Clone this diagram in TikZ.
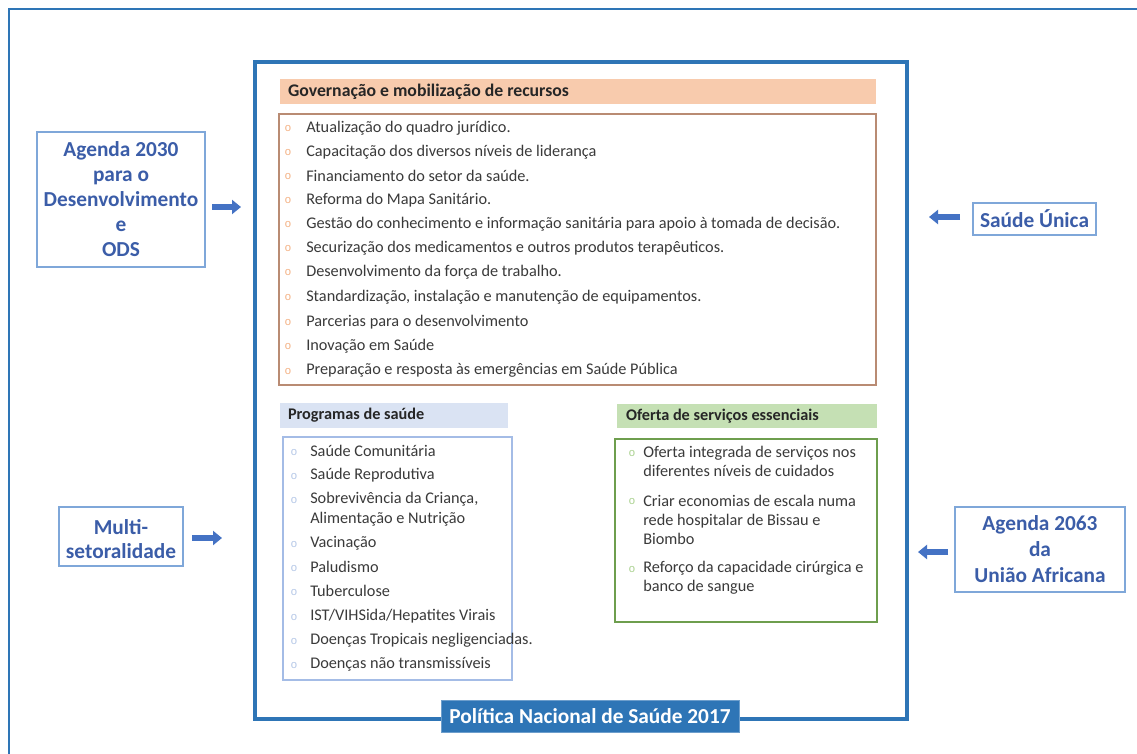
\documentclass[tikz,border=0pt]{standalone}
\usepackage{fontspec}
\setmainfont{Carlito}
\newfontfamily\bulfont{Liberation Mono}
\usetikzlibrary{arrows.meta,calc,fit}
\definecolor{mblue}{HTML}{2E75B6}
\definecolor{sidetext}{HTML}{3B5DA8}
\definecolor{sideborder}{HTML}{7FA7D9}
\definecolor{arrowc}{HTML}{4472C4}
\definecolor{peach}{HTML}{F8CBAD}
\definecolor{govborder}{HTML}{B98B73}
\definecolor{govbul}{HTML}{F4B183}
\definecolor{lblue}{HTML}{DAE3F3}
\definecolor{progborder}{HTML}{A4BCE6}
\definecolor{progbul}{HTML}{B4C7E7}
\definecolor{lgreen}{HTML}{C5E0B4}
\definecolor{ofborder}{HTML}{6E9E4E}
\definecolor{ofbul}{HTML}{A9D18E}
\definecolor{bodytext}{HTML}{3A3A3A}
\definecolor{headtext}{HTML}{262626}
\begin{document}
\begin{tikzpicture}[x=0.75pt,y=-0.75pt,
  frame/.style={inner sep=0pt, outer sep=0pt},
  sidebox/.style={frame, draw=sideborder, line width=1.2pt},
  sidetxt/.style={text=sidetext, align=center, inner sep=0pt},
  head/.style={frame, text=headtext, font=\fontsize{12.2}{14}\selectfont\bfseries},
  item/.style={anchor=west, inner sep=0pt, text=bodytext, align=left,
    font=\fontsize{12.2}{15}\selectfont},
  bul/.style={anchor=center, inner sep=0pt, font=\fontsize{8.5}{8.5}\selectfont\bulfont},
  arr/.style={draw=arrowc, line width=4.5pt, -{Triangle[length=6.75pt,width=10.5pt]}}
]
\useasboundingbox (0,0) rectangle (1137,753);
\clip (0,0) rectangle (1137,753);
\fill[white] (0,0) rectangle (1137,753);
% outer frame
\node[frame, draw=mblue, line width=1.6pt, fit={(9,9) (1160,780)}] (outer) {};
% main frame
\node[frame, draw=mblue, line width=2.4pt, fit={(255,62) (907,719)}] (main) {};
\node[frame, fill=mblue, draw=mblue!70, line width=0.6pt, fit={(441,700) (739,732)}] (title) {};
\node[text=white, font=\fontsize{16}{18}\selectfont\bfseries, inner sep=0pt] (titletext) at (title.center) {Política Nacional de Saúde 2017};

% Governance
\node[frame, fill=peach, fit={(280,79) (876,104)}] (govh) {};
\node[head, anchor=west, font=\fontsize{13.3}{15}\selectfont\bfseries] (govht) at (288,92) {Governação e mobilização de recursos};
\node[frame, draw=govborder, line width=1.2pt, fit={(279,114) (876,385)}] (gov) {};
\foreach \y/\t [count=\i] in {128/{Atualização do quadro jurídico.},
  152/{Capacitação dos diversos níveis de liderança},
  176/{Financiamento do setor da saúde.},
  200/{Reforma do Mapa Sanitário.},
  224/{Gestão do conhecimento e informação sanitária para apoio à tomada de decisão.},
  248/{Securização dos medicamentos e outros produtos terapêuticos.},
  272/{Desenvolvimento da força de trabalho.},
  297/{Standardização, instalação e manutenção de equipamentos.},
  322/{Parcerias para o desenvolvimento},
  346/{Inovação em Saúde},
  370/{Preparação e resposta às emergências em Saúde Pública}}{
  \node[bul, text=govbul] (gb\i) at (288,\y+1) {o};
  \node[item] (g\i) at (306,\y) {\t};
}

% Programas
\node[frame, fill=lblue, fit={(280,403) (508,428)}] (progh) {};
\node[head, anchor=west] (proght) at (288,415.5) {Programas de saúde};
\node[frame, draw=progborder, line width=1.2pt, fit={(283,437) (512,680)}] (prog) {};
\foreach \y/\t [count=\i] in {451/{Saúde Comunitária},
  475/{Saúde Reprodutiva},
  509/{Sobrevivência da Criança,\\Alimentação e Nutrição},
  543/{Vacinação},
  567/{Paludismo},
  591/{Tuberculose},
  616/{IST/VIHSida/Hepatites Virais},
  640/{Doenças Tropicais negligenciadas.},
  664/{Doenças não transmissíveis}}{
  \node[item] (p\i) at (310,\y) {\t};
}
\foreach \y [count=\i] in {451,475,499,543,567,591,616,640,664}{
  \node[bul, text=progbul] (pb\i) at (294,\y+1) {o};
}

% Oferta
\node[frame, fill=lgreen, fit={(617,404) (877,428)}] (ofh) {};
\node[head, anchor=west] (ofht) at (626,416.5) {Oferta de serviços essenciais};
\node[frame, draw=ofborder, line width=1.2pt, fit={(615,439) (877,622)}] (of) {};
\node[item, font=\fontsize{12.2}{14.25}\selectfont] (o1) at (643,461.5) {Oferta integrada de serviços nos\\diferentes níveis de cuidados};
\node[item, font=\fontsize{12.2}{14.25}\selectfont] (o2) at (643,519.5) {Criar economias de escala numa\\rede hospitalar de Bissau e\\Biombo};
\node[item, font=\fontsize{12.2}{14.25}\selectfont] (o3) at (643,577.5) {Reforço da capacidade cirúrgica e\\banco de sangue};
\node[bul, text=ofbul] (ob1) at (632,453) {o};
\node[bul, text=ofbul] (ob2) at (632,501) {o};
\node[bul, text=ofbul] (ob3) at (632,569) {o};

% Side boxes
\node[sidebox, fit={(37,132) (205,267)}] (a2030) {};
\node[sidetxt, font=\fontsize{16}{18.75}\selectfont\bfseries] (a2030t) at (a2030.center) {Agenda 2030\\para o\\Desenvolvimento\\e\\ODS};
\node[sidebox, fit={(59,507) (183,566)}] (multi) {};
\node[sidetxt, font=\fontsize{16}{18}\selectfont\bfseries] (multit) at ($(multi.center)+(0,3)$) {Multi-\\setoralidade};
\node[sidebox, fit={(973,203) (1096,235)}] (unica) {};
\node[sidetxt, font=\fontsize{16}{18}\selectfont\bfseries] (unicat) at (unica.center) {Saúde Única};
\node[sidebox, fit={(955,507) (1125,592)}] (a2063) {};
\node[sidetxt, font=\fontsize{16}{19.5}\selectfont\bfseries] (a2063t) at (a2063.center) {Agenda 2063\\da\\União Africana};

% Arrows
\draw[arr] ($(a2030.east)+(7,7.5)$) -- ($(main.west |- a2030.east)+(-14,7.5)$);
\draw[arr] ($(multi.east)+(9,1.5)$) -- ($(main.west |- multi.east)+(-33,1.5)$);
\draw[arr] ($(unica.west)+(-13,-2)$) -- ($(main.east |- unica.west)+(22,-2)$);
\draw[arr] ($(a2063.west)+(-7,2.5)$) -- ($(main.east |- a2063.west)+(11,2.5)$);
\end{tikzpicture}
\end{document}
